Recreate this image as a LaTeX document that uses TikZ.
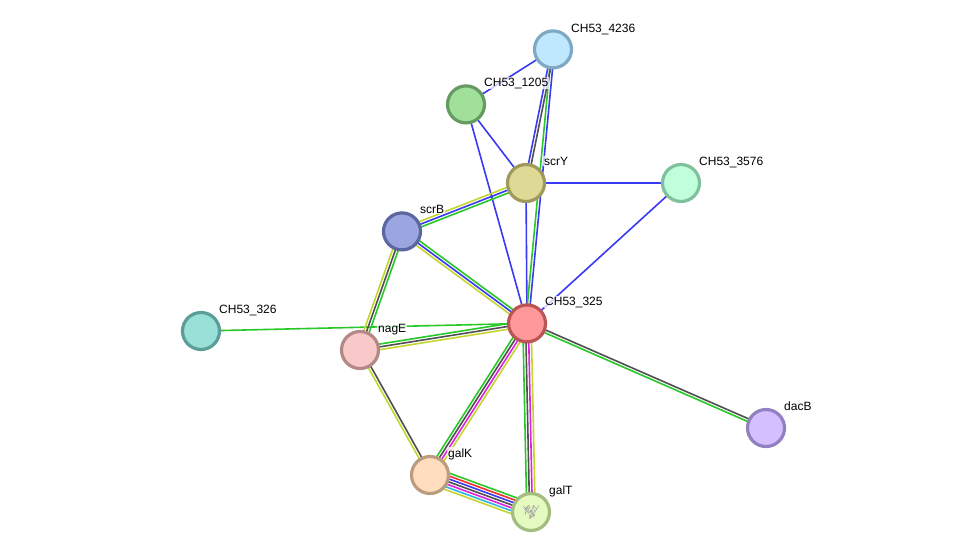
\documentclass[tikz,border=0pt]{standalone}
\usepackage{fontspec}
\setmainfont{Liberation Sans}
\usetikzlibrary{calc,backgrounds}
\definecolor{egreen}{HTML}{28C828}
\definecolor{eblue}{HTML}{3A3AF5}
\definecolor{edark}{HTML}{505050}
\definecolor{eyellow}{HTML}{C4D62E}
\definecolor{emag}{HTML}{DD22DD}
\definecolor{ered}{HTML}{F53030}
\definecolor{ecyan}{HTML}{30B4E0}
% Fill and rim colours of each protein
\definecolor{fa}{HTML}{BFE8FF}\definecolor{ra}{HTML}{7FA8C4}
\definecolor{fb}{HTML}{A0E09A}\definecolor{rb}{HTML}{659B60}
\definecolor{fc}{HTML}{DEDA96}\definecolor{rc}{HTML}{9E9A5C}
\definecolor{fd}{HTML}{C0FFDC}\definecolor{rd}{HTML}{80C09C}
\definecolor{fe}{HTML}{9BA5E0}\definecolor{re}{HTML}{5C669F}
\definecolor{ff}{HTML}{FF9999}\definecolor{rf}{HTML}{BB5555}
\definecolor{fg}{HTML}{99E0D9}\definecolor{rg}{HTML}{5B9E97}
\definecolor{fh}{HTML}{F9C8C8}\definecolor{rh}{HTML}{B58888}
\definecolor{fi}{HTML}{FFDDBE}\definecolor{ri}{HTML}{BB9C7F}
\definecolor{fj}{HTML}{E4FAC0}\definecolor{rj}{HTML}{A3BD80}
\definecolor{fk}{HTML}{D4C0FF}\definecolor{rk}{HTML}{9280C0}
\tikzset{
  protein/.style 2 args={circle,draw=#2,fill=#1,line width=3.2pt,minimum size=37pt,inner sep=0pt},
  tag/.style={anchor=base west,font=\fontsize{12}{14}\selectfont,text=black,fill=white,fill opacity=.75,text opacity=1,inner sep=1pt},
  link/.style={line width=1.6pt}
}
% One straight strand per offset/colour pair, drawn side by side between two nodes
\newcommand\strands[3]{%
  \foreach \off/\col in {#3}{%
    \draw[link,\col] ($(#1)!\off pt!90:(#2)$) -- ($(#2)!\off pt!-90:(#1)$);
  }}
\begin{document}
\begin{tikzpicture}[x=1pt,y=-1pt]
\useasboundingbox (0,0) rectangle (976,557);

% Proteins
\node[protein={fa}{ra}] (n4236) at (553,49.4) {};
\node[protein={fb}{rb}] (n1205) at (466,104.4) {};
\node[protein={fc}{rc}] (scrY) at (526,183) {};
\node[protein={fd}{rd}] (n3576) at (681,183) {};
\node[protein={fe}{re}] (scrB) at (402,231.4) {};
\node[protein={ff}{rf}] (n325) at (527,323.4) {};
\node[protein={fg}{rg}] (n326) at (201,331) {};
\node[protein={fh}{rh}] (nagE) at (360,350) {};
\node[protein={fi}{ri}] (galK) at (430,475) {};
\node[protein={fj}{rj}] (galT) at (531,512) {};
\node[protein={fk}{rk}] (dacB) at (766,428) {};

% Fine structure sketch inside galT
\draw[black!35,line width=.5pt,line join=round]
  (523,506) -- (526,509) -- (525,515) -- (528,507) -- (530,518) -- (533,506) -- (535,512) -- (539,505)
  (524,510) -- (529,505) -- (531,513) -- (535,515) -- (529,519) -- (537,509) -- (533,505)
  (526,507) -- (528,513) -- (532,510) -- (534,517);

% Interactions, on a white ground behind the proteins
\begin{scope}[on background layer]
\fill[white] (0,0) rectangle (976,557);
\strands{n1205}{n4236}{0/eblue}
\strands{n1205}{scrY}{0/eblue}
\strands{n1205}{n325}{0/eblue}
\strands{scrY}{n3576}{0/eblue}
\strands{n325}{n3576}{0/eblue}
\strands{n325}{scrY}{0/eblue}
\strands{n326}{n325}{0/egreen}
\strands{n325}{n4236}{1.4/egreen,-1.4/eblue}
\strands{scrY}{n4236}{1.4/eblue,-1.4/edark}
\strands{scrB}{scrY}{2.8/eyellow,0/eblue,-2.8/egreen}
\strands{scrB}{n325}{2.8/egreen,0/eblue,-2.8/eyellow}
\strands{scrB}{nagE}{2.8/egreen,0/edark,-2.8/eyellow}
\strands{nagE}{n325}{2.8/egreen,0/edark,-2.8/eyellow}
\strands{nagE}{galK}{1.4/edark,-1.4/eyellow}
\strands{galK}{n325}{4.2/egreen,1.4/edark,-1.4/emag,-4.2/eyellow}
\strands{n325}{galT}{4.2/eyellow,1.4/emag,-1.4/edark,-4.2/egreen}
\strands{galK}{galT}{8.4/egreen,5.6/ered,2.8/eblue,0/edark,-2.8/emag,-5.6/ecyan,-8.4/eyellow}
\strands{n325}{dacB}{1.4/edark,-1.4/egreen}
\end{scope}

% Protein names
\node[tag] (t4236) at (570,32) {CH53\_4236};
\node[tag] (t1205) at (483,86) {CH53\_1205};
\node[tag] (tscrY) at (543,165) {scrY};
\node[tag] (t3576) at (698,165) {CH53\_3576};
\node[tag] (tscrB) at (419,213) {scrB};
\node[tag] (t325) at (544,305) {CH53\_325};
\node[tag] (t326) at (218,313) {CH53\_326};
\node[tag] (tnagE) at (377,332) {nagE};
\node[tag] (tgalK) at (447,457) {galK};
\node[tag] (tgalT) at (548,494) {galT};
\node[tag] (tdacB) at (783,410) {dacB};
\end{tikzpicture}
\end{document}
